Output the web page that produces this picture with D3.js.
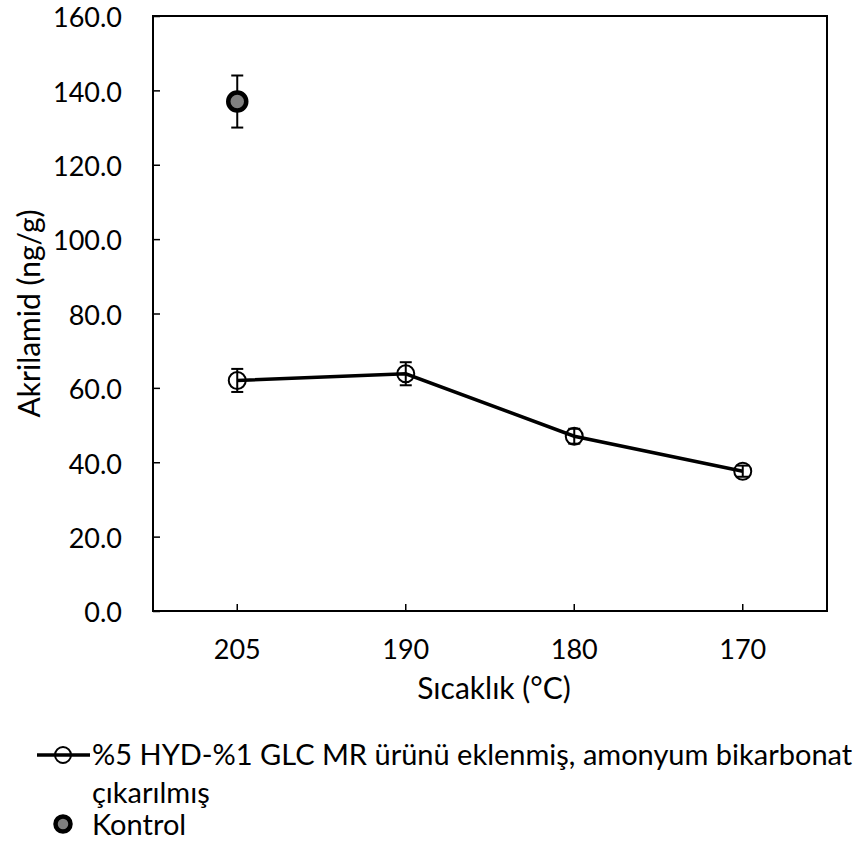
<!DOCTYPE html>
<html>
<head>
<meta charset="utf-8">
<script src="https://cdn.jsdelivr.net/npm/d3@7"></script>
<style>
  body { margin: 0; background: #fff; }
  text { font-family: Lato, "Open Sans", sans-serif; fill: #000; }
</style>
</head>
<body>
<div id="chart"></div>
<script>
// categories (temperature, °C)
const temps = ['205', '190', '180', '170'];
// %5 HYD-%1 GLC MR series
const mrValues = [62.0, 63.8, 47.0, 37.6];
const mrErrors = [3.1, 3.1, 2.0, 1.5];
// control point
const ctrlTemp = '205';
const ctrlValue = 137.0;
const ctrlError = 7.0;
const yTicks = [0, 20, 40, 60, 80, 100, 120, 140, 160];

const seriesName = '%5 HYD-%1 GLC MR ürünü eklenmiş, amonyum bikarbonat';
const seriesName2 = 'çıkarılmış';
const ctrlName = 'Kontrol';

const width = 860, height = 843;
const plot = { left: 153, right: 827, top: 16, bottom: 611 };

const svg = d3.select('#chart').append('svg')
  .attr('width', width)
  .attr('height', height);

/* Scales */
const x = d3.scaleBand()
  .domain(temps)
  .range([plot.left, plot.right]);
const y = d3.scaleLinear()
  .domain([0, 160])
  .range([plot.bottom, plot.top]);
const cx = t => x(t) + x.bandwidth() / 2;

/* Axes */
const yAxis = svg.append('g')
  .attr('transform', `translate(${plot.left},0)`)
  .call(d3.axisLeft(y).tickValues(yTicks).tickFormat(d3.format('.1f'))
    .tickSizeInner(-7).tickSizeOuter(0).tickPadding(31));
yAxis.select('.domain').remove();
yAxis.selectAll('line').attr('stroke', '#000').attr('stroke-width', 1.5);
yAxis.selectAll('text').style('font-size', '27px').attr('font-family', null)
  .attr('dy', '0.4em');

const xAxis = svg.append('g')
  .attr('transform', `translate(0,${plot.bottom})`)
  .call(d3.axisBottom(x).tickSizeInner(-7).tickSizeOuter(0).tickPadding(29));
xAxis.select('.domain').remove();
xAxis.selectAll('line').attr('stroke', '#000').attr('stroke-width', 1.5);
xAxis.selectAll('text').style('font-size', '27px').attr('font-family', null);

// frame
svg.append('rect')
  .attr('x', plot.left).attr('y', plot.top)
  .attr('width', plot.right - plot.left).attr('height', plot.bottom - plot.top)
  .attr('fill', 'none').attr('stroke', '#000').attr('stroke-width', 2);

/* Axis titles */
svg.append('text')
  .attr('transform', `translate(40,${(plot.top + plot.bottom) / 2}) rotate(-90)`)
  .attr('text-anchor', 'middle')
  .style('font-size', '30px')
  .text('Akrilamid (ng/g)');
svg.append('text')
  .attr('x', (plot.left + plot.right) / 2 + 4)
  .attr('y', 699)
  .attr('text-anchor', 'middle')
  .style('font-size', '30px')
  .text('Sıcaklık (°C)');

/* Error bars */
function errorBar(g, t, v, e) {
  const px = cx(t);
  g.append('line').attr('x1', px).attr('x2', px)
    .attr('y1', y(v - e)).attr('y2', y(v + e));
  [v - e, v + e].forEach(d => {
    g.append('line').attr('x1', px - 6).attr('x2', px + 6)
      .attr('y1', y(d)).attr('y2', y(d));
  });
}
const errG = svg.append('g').attr('stroke', '#000').attr('stroke-width', 2);
temps.forEach((t, i) => errorBar(errG, t, mrValues[i], mrErrors[i]));
errorBar(errG, ctrlTemp, ctrlValue, ctrlError);

/* Series line */
const line = d3.line()
  .x((d, i) => cx(temps[i]))
  .y(d => y(d));
svg.append('path')
  .attr('d', line(mrValues))
  .attr('fill', 'none')
  .attr('stroke', '#000')
  .attr('stroke-width', 3.5);

svg.append('g').selectAll('circle')
  .data(mrValues).enter()
  .append('circle')
  .attr('cx', (d, i) => cx(temps[i]))
  .attr('cy', d => y(d))
  .attr('r', 8.5)
  .attr('fill', 'none')
  .attr('stroke', '#000')
  .attr('stroke-width', 2);

svg.append('circle')
  .attr('cx', cx(ctrlTemp))
  .attr('cy', y(ctrlValue))
  .attr('r', 9)
  .attr('fill', '#808080')
  .attr('stroke', '#000')
  .attr('stroke-width', 4.5);

/* Legend */
const legend = svg.append('g');
legend.append('line')
  .attr('x1', 37).attr('x2', 90).attr('y1', 755).attr('y2', 755)
  .attr('stroke', '#000').attr('stroke-width', 3.5);
legend.append('circle')
  .attr('cx', 63).attr('cy', 755).attr('r', 8)
  .attr('fill', 'none').attr('stroke', '#000').attr('stroke-width', 2);
legend.append('text').attr('x', 92).attr('y', 765)
  .style('font-size', '29px').text(seriesName);
legend.append('text').attr('x', 92).attr('y', 803)
  .style('font-size', '29px').text(seriesName2);
legend.append('circle')
  .attr('cx', 63).attr('cy', 824).attr('r', 7.5)
  .attr('fill', '#808080').attr('stroke', '#000').attr('stroke-width', 4.5);
legend.append('text').attr('x', 92).attr('y', 835)
  .style('font-size', '29px').text(ctrlName);
</script>
</body>
</html>
